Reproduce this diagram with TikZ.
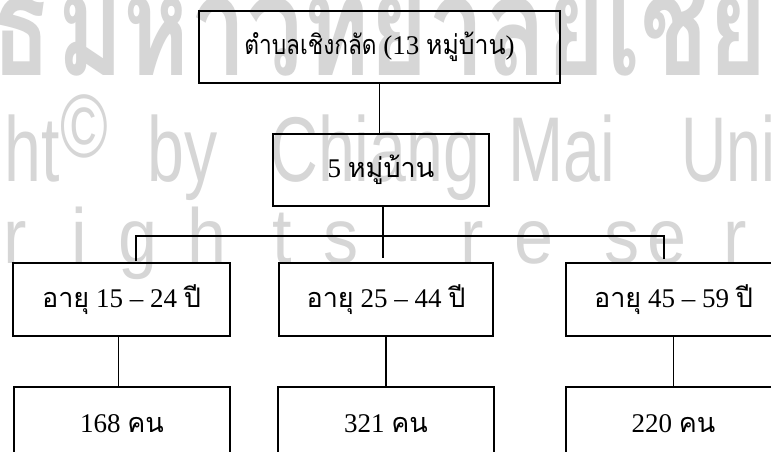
\documentclass[tikz,border=0pt]{standalone}
\usepackage{fontspec}
\setmainfont{Liberation Serif}
\newfontfamily\thai[Script=Thai,Scale=1.0]{Loma}
\newfontfamily\thaiwm[Script=Thai]{Loma}
\newfontfamily\wmfont{Liberation Sans}
\definecolor{wmgray}{RGB}{214,214,214}
\tikzset{
  box/.style={draw=black, line width=1.7pt, inner sep=0pt, minimum height=72pt,
    font=\fontsize{27}{32}\selectfont},
  conn/.style={draw=black, line width=1.5pt},
  wm/.style={text=wmgray, inner sep=0pt},
  wmletter/.style={wm, anchor=base, font=\wmfont\fontsize{78}{90}\selectfont}
}
\begin{document}
\begin{tikzpicture}[x=1pt,y=-1pt]
\useasboundingbox (0,0) rectangle (771,452);
\clip (0,0) rectangle (771,452);
\fill[white] (0,0) rectangle (771,452);
% watermark
\node[wm, anchor=base east] (w1a) at (52,76) {\thaiwm\bfseries\fontsize{140}{150}\selectfont\scalebox{0.72}[1]{ลิขสิทธิ์}};
\node[wm, anchor=base west] (w1b) at (57,76) {\thaiwm\bfseries\fontsize{140}{150}\selectfont\scalebox{0.72}[1]{มหาวิทยาลัยเชียงใหม่}};
\node[wm, anchor=base east] (w2a) at (108,181) {\wmfont\fontsize{92}{100}\selectfont\scalebox{0.72}[1]{Copyright\raisebox{0.26em}{\fontsize{90}{90}\selectfont ©}}};
\node[wm, anchor=base west] (w2b) at (147,181) {\wmfont\fontsize{92}{100}\selectfont\scalebox{0.72}[1]{by}};
\node[wm, anchor=base west] (w2c) at (270,181) {\wmfont\fontsize{92}{100}\selectfont\scalebox{0.72}[1]{Chiang}};
\node[wm, anchor=base west] (w2d) at (508,181) {\wmfont\fontsize{92}{100}\selectfont\scalebox{0.72}[1]{Mai}};
\node[wm, anchor=base west] (w2e) at (681,181) {\wmfont\fontsize{92}{100}\selectfont\scalebox{0.68}[1]{University}};
\node[wmletter] (l1) at (15,263) {\scalebox{0.9}[1]{r}};
\node[wmletter] (l2) at (79,263) {\scalebox{0.9}[1]{i}};
\node[wmletter] (l3) at (138,263) {\scalebox{0.9}[1]{g}};
\node[wmletter] (l4) at (207,263) {\scalebox{0.9}[1]{h}};
\node[wmletter] (l5) at (282,263) {\scalebox{0.9}[1]{t}};
\node[wmletter] (l6) at (341,263) {\scalebox{0.9}[1]{s}};
\node[wmletter] (l7) at (472,263) {\scalebox{0.9}[1]{r}};
\node[wmletter] (l8) at (534,263) {\scalebox{0.9}[1]{e}};
\node[wmletter] (l9) at (622,263) {\scalebox{0.9}[1]{s}};
\node[wmletter] (l10) at (667,263) {\scalebox{0.9}[1]{e}};
\node[wmletter] (l11) at (735,263) {\scalebox{0.9}[1]{r}};
% boxes
\node[box, minimum width=361pt] (A) at (379.5,47) {{\thai\scalebox{0.84}[1]{ตำบลเชิงกลัด}} (13 {\thai\scalebox{0.92}[1]{หมู่บ้าน}})};
\node[box, minimum width=216pt] (B) at (381,170) {5 {\thai หมู่บ้าน}};
\node[box, minimum width=217pt, minimum height=73pt] (C1) at (121.5,299.5) {{\thai อายุ} 15 – 24 {\thai ปี}};
\node[box, minimum width=214pt, minimum height=73pt] (C2) at (386,299.5) {{\thai อายุ} 25 – 44 {\thai ปี}};
\node[box, minimum width=215pt, minimum height=73pt] (C3) at (673.5,299.5) {{\thai อายุ} 45 – 59 {\thai ปี}};
\node[box, minimum width=216pt, minimum height=73pt] (D1) at (122,423.5) {168 {\thai คน}};
\node[box, minimum width=216pt, minimum height=73pt] (D2) at (386,423.5) {321 {\thai คน}};
\node[box, minimum width=215pt, minimum height=73pt] (D3) at (673.5,423.5) {220 {\thai คน}};
% connectors
\coordinate (bEnd) at (383,258);
\coordinate (busL) at (136,236);
\coordinate (busR) at (664,236);
\coordinate (dropL) at (136,261);
\coordinate (dropR) at (664,259);
\draw[conn] (A.south) -- (A.south |- B.north);
\draw[conn] (B.south -| bEnd) -- (bEnd);
\draw[conn] (dropL) -- (busL) -- (busR) -- (dropR);
\draw[conn] (C1.south) ++(-3,0) coordinate (c1s) -- (c1s |- D1.north);
\draw[conn] (C2.south) -- (C2.south |- D2.north);
\draw[conn] (C3.south) -- (C3.south |- D3.north);
\end{tikzpicture}
\end{document}
